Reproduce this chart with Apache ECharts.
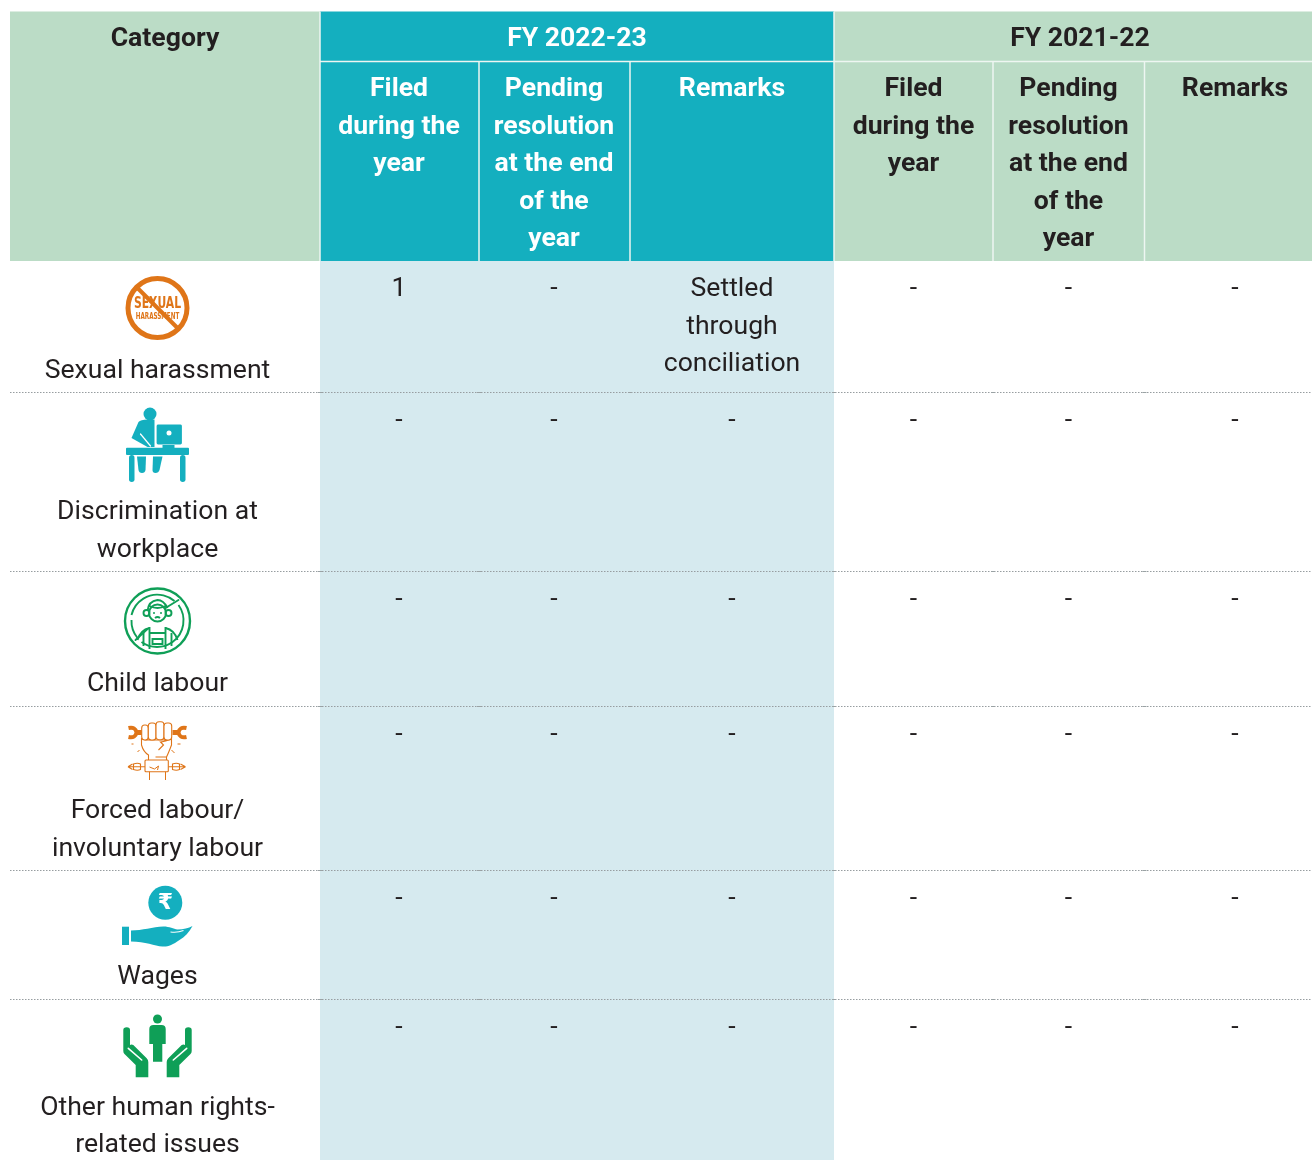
<!DOCTYPE html>
<html>
<head>
<meta charset="utf-8">
<title>Grievances on human rights</title>
<script src="https://cdn.jsdelivr.net/npm/echarts@6/dist/echarts.min.js"></script>
<style>
  html, body { margin: 0; padding: 0; background: #fff; }
  #chart { width: 1312px; height: 1160px; }
</style>
</head>
<body>
<div id="chart"></div>
<script>
// table content
const categoryHead = 'Category'
const yearHeads = ['FY 2022-23', 'FY 2021-22']
const subHeads = ['Filed\nduring the\nyear', 'Pending\nresolution\nat the end\nof the\nyear', 'Remarks']
const categories = [
  'Sexual harassment',
  'Discrimination at\nworkplace',
  'Child labour',
  'Forced labour/\ninvoluntary labour',
  'Wages',
  'Other human rights-\nrelated issues'
]
const filed2223 = ['1', '-', '-', '-', '-', '-']
const pending2223 = ['-', '-', '-', '-', '-', '-']
const remarks2223 = ['Settled\nthrough\nconciliation', '-', '-', '-', '-', '-']
const filed2122 = ['-', '-', '-', '-', '-', '-']
const pending2122 = ['-', '-', '-', '-', '-', '-']
const remarks2122 = ['-', '-', '-', '-', '-', '-']

// layout of the table, in picture units (the axes below run 0-1312 and 0-1160)
const COL_EDGES = [10, 320, 479, 630, 834, 993, 1144.5, 1312]
const ROW_EDGES = [261, 392.5, 571.5, 706.5, 870.5, 999.5, 1160]
const HEAD_TOP = 11.5
const HEAD_SPLIT = 61.5
const COL_CENTERS = [399, 554, 732, 913.5, 1068.5, 1235]
const CATEGORY_X = 157.5
const ICON_Y = [308, 445, 621, 750, 920, 1045]
const CATEGORY_TEXT_Y = [352.5, 494, 666, 793, 959, 1089.5]

const GREEN_HEAD = '#bbdcc6'
const TEAL = '#14afbf'
const PALE_BLUE = '#d6eaef'
const INK = '#231f20'
const ORANGE = '#df7518'
const GREEN = '#0f9f57'
const FONT = 'Roboto, sans-serif'
const LINE_H = 37.5
const NARROW = '"Liberation Sans Narrow", "DejaVu Sans Condensed", sans-serif'

const valueColumns = [filed2223, pending2223, remarks2223, filed2122, pending2122, remarks2122]

// background blocks
const cellData = [
  [COL_EDGES[0], HEAD_TOP, COL_EDGES[1], ROW_EDGES[0], GREEN_HEAD],
  [COL_EDGES[1], HEAD_TOP, COL_EDGES[4], ROW_EDGES[0], TEAL],
  [COL_EDGES[4], HEAD_TOP, COL_EDGES[7], ROW_EDGES[0], GREEN_HEAD],
  [COL_EDGES[1], ROW_EDGES[0], COL_EDGES[4], ROW_EDGES[6], PALE_BLUE]
]

// texts: x, y(top of first line), text, weight, colour
const textData = []
textData.push([165, 21, categoryHead, 700, INK])
textData.push([577, 21, yearHeads[0], 700, '#fff'])
textData.push([1080, 21, yearHeads[1], 700, INK])
COL_CENTERS.forEach((x, i) => {
  textData.push([x, 71, subHeads[i % 3], 700, i < 3 ? '#fff' : INK])
  valueColumns[i].forEach((v, r) => {
    textData.push([x, ROW_EDGES[r] + 10, v, 400, INK])
  })
})
categories.forEach((c, r) => {
  textData.push([CATEGORY_X, CATEGORY_TEXT_Y[r], c, 400, INK])
})

// white separators in the header: x0, y0, x1, y1
const headLines = [
  [COL_EDGES[1], HEAD_SPLIT, COL_EDGES[7], HEAD_SPLIT],
  [COL_EDGES[1], HEAD_TOP, COL_EDGES[1], ROW_EDGES[0]],
  [COL_EDGES[4], HEAD_TOP, COL_EDGES[4], ROW_EDGES[0]]
]
;[2, 3, 5, 6].forEach((i) => {
  headLines.push([COL_EDGES[i], HEAD_SPLIT, COL_EDGES[i], ROW_EDGES[0]])
})

function renderCell(params, api) {
  const p0 = api.coord([api.value(0), api.value(1)])
  const p1 = api.coord([api.value(2), api.value(3)])
  return {
    type: 'rect',
    shape: { x: p0[0], y: p0[1], width: p1[0] - p0[0], height: p1[1] - p0[1] },
    style: { fill: cellData[params.dataIndex][4] }
  }
}

function renderHeadLine(params, api) {
  const p0 = api.coord([api.value(0), api.value(1)])
  const p1 = api.coord([api.value(2), api.value(3)])
  return {
    type: 'line',
    shape: { x1: p0[0], y1: p0[1], x2: p1[0], y2: p1[1] },
    style: { stroke: '#eef6f2', lineWidth: 1.5 }
  }
}

function renderRowLine(params, api) {
  const y = api.value(0)
  const a = api.coord([COL_EDGES[0], y])
  const b = api.coord([COL_EDGES[7], y])
  const children = [{
    type: 'line',
    shape: { x1: a[0], y1: a[1], x2: b[0], y2: b[1] },
    style: { stroke: '#979da0', lineWidth: 1, lineDash: [1.5, 1.5] }
  }]
  // little darker joins where the column borders meet the rule
  COL_EDGES.slice(1, 7).forEach((x) => {
    const c = api.coord([x, y])
    children.push({
      type: 'line',
      shape: { x1: c[0] - 2, y1: c[1], x2: c[0] + 2, y2: c[1] },
      style: { stroke: '#9aa2a4', lineWidth: 1 }
    })
  })
  return { type: 'group', children }
}

function renderText(params, api) {
  const d = textData[params.dataIndex]
  const p = api.coord([d[0], d[1]])
  return {
    type: 'text',
    x: p[0],
    y: p[1],
    style: {
      text: d[2],
      align: 'center',
      verticalAlign: 'top',
      font: d[3] + ' 26.6px ' + FONT,
      lineHeight: LINE_H,
      fill: d[4]
    }
  }
}

// --- icons, drawn around an anchor point ---
function circle(cx, cy, r, style) {
  return { type: 'circle', shape: { cx, cy, r }, style }
}
function path(d, style) {
  return { type: 'path', shape: { pathData: d }, style, x: 0, y: 0 }
}
function rect(x, y, width, height, r, fill) {
  return { type: 'rect', shape: { x, y, width, height, r }, style: { fill } }
}
function seg(x1, y1, x2, y2, stroke, lineWidth) {
  return { type: 'line', shape: { x1, y1, x2, y2 }, style: { stroke, lineWidth, lineCap: 'round' } }
}
function label(text, x, y, font, fill, scaleX) {
  return { type: 'text', x, y, scaleX: scaleX || 1, style: { text, font, fill, align: 'center', verticalAlign: 'middle' } }
}

function iconSexual() {
  return [
    circle(0, 0, 29.5, { fill: '#fff', stroke: ORANGE, lineWidth: 5 }),
    label('SEXUAL', 0, -4, 'bold 15px ' + NARROW, ORANGE, 0.8),
    label('HARASSMENT', 0, 9, 'bold 8px ' + NARROW, ORANGE, 0.78),
    seg(-19, -19, 19, 19, ORANGE, 4)
  ]
}

function iconDesk() {
  return [
    circle(-7.5, -31, 6.5, { fill: TEAL }),
    path('M-19 -23 Q-17 -25.5 -10 -25.5 L-3 -25.5 L-3 2 L-10 2 L-26 -7 Z', { fill: TEAL }),
    seg(-17, -11, -7, 1, '#fff', 1.2),
    { type: 'rect', shape: { x: -1.5, y: -21, width: 26.5, height: 21, r: 2 }, style: { fill: TEAL, stroke: '#fff', lineWidth: 1.2 } },
    circle(11.5, -12, 2.5, { fill: '#fff' }),
    rect(5, 0, 12, 3, 0, TEAL),
    rect(-31.5, 2.7, 63, 7.3, 1, TEAL),
    rect(-28.5, 10, 5.5, 27, 2.7, TEAL),
    rect(22.5, 10, 5.5, 27, 2.7, TEAL),
    path('M-20.5 11.5 L-11.5 11.5 L-12 25 Q-12.5 28 -15.5 28 Q-18.5 28 -19 25 Z', { fill: TEAL }),
    path('M-4.5 11.5 L5 11.5 L2 25 Q1 28 -2 28 Q-5 28 -5 25 Z', { fill: TEAL })
  ]
}

function iconChild() {
  const s = { fill: 'none', stroke: GREEN, lineWidth: 1.9 }
  return [
    circle(0, 0, 32.5, { fill: 'none', stroke: GREEN, lineWidth: 2.4 }),
    path('M-26 -6 A26.5 26.5 0 0 1 17 -20 M21 -16 A26.5 26.5 0 0 1 -16 21 M-20 17 A26.5 26.5 0 0 1 -26 -1', s),
    circle(0, -8, 8.5, s),
    path('M-10 -10 Q-9 -20 0 -21 Q6 -21 10 -13 M-8 -15 Q0 -11 8 -15', s),
    circle(-11, -8, 3, s),
    circle(11, -8, 3, s),
    circle(-3.5, -8, 1, { fill: GREEN }),
    circle(3.5, -8, 1, { fill: GREEN }),
    path('M-2.5 -3 Q0 -5 2.5 -3', s),
    path('M-8 6 L-8 28 M8 6 L8 28 M-8 12 L8 12 M-5 18 L5 18 L5 23 L-5 23 Z', s),
    path('M-8 7 Q-17 9 -20 19 M8 7 Q17 9 20 19 M-14 12 L-14 25 M14 12 L14 25', s),
    seg(8, -13, 21, -21, GREEN, 1.9),
    seg(-22, 19, -10, 8, GREEN, 1.9)
  ]
}

function iconFist() {
  const s = { fill: '#fff', stroke: ORANGE, lineWidth: 1.1 }
  const wrench = () => [
    path('M-29 -22 Q-22 -23.5 -21 -17.5 Q-22 -11.5 -29 -13', { fill: 'none', stroke: ORANGE, lineWidth: 4 }),
    rect(-21, -20, 6, 5, 0, ORANGE)
  ]
  return [
    { type: 'group', children: wrench() },
    { type: 'group', scaleX: -1, children: wrench() },
    path('M-16 -12 L-16 -5 Q-14 2 -9 5 L-9 10 M14 -12 L14 -5 Q11 3 9 7 L9 10 M-13 -10 L11 -10 Q5 -8 3 -8 L6 -5 L1 0 M-2 7 L9 7', { fill: 'none', stroke: ORANGE, lineWidth: 1.1 }),
    { type: 'rect', shape: { x: -15.8, y: -25, width: 6.6, height: 15, r: 3 }, style: s },
    { type: 'rect', shape: { x: -9.2, y: -27, width: 7.7, height: 17, r: 3 }, style: s },
    { type: 'rect', shape: { x: -1.5, y: -28.3, width: 8, height: 18, r: 3 }, style: s },
    { type: 'rect', shape: { x: 6.5, y: -27, width: 7.7, height: 17, r: 3 }, style: s },
    { type: 'rect', shape: { x: -12.5, y: 10, width: 23.3, height: 11.7, r: 1 }, style: s },
    path('M-8 21.7 L-8 30 M8 21.7 L8 30 M-8 17 L-3 19 L1 16 L0 20 M-26 -6 L-24 -6 M20 -6 L23 -6 M-20 2 L-18 0 M14 0 L17 3', { fill: 'none', stroke: ORANGE, lineWidth: 1 }),
    path('M-29.5 16.7 L-12.5 16.7 M-24 14 Q-20 12.5 -17 14 L-17 19.5 Q-20 21 -24 19.5 Z M-29.5 16.7 L-25 14 M-29.5 16.7 L-25 19.5', { fill: 'none', stroke: ORANGE, lineWidth: 1.1 }),
    path('M10.8 16.7 L28 16.7 M15 14 Q19 12.5 22 14 L22 19.5 Q19 21 15 19.5 Z M28 16.7 L23 14 M28 16.7 L23 19.5', { fill: 'none', stroke: ORANGE, lineWidth: 1.1 })
  ]
}

function iconWages() {
  return [
    circle(7.8, -17.3, 17, { fill: TEAL }),
    label('\u20b9', 7.8, -17, 'bold 22px "DejaVu Sans", sans-serif', '#fff'),
    rect(-35.5, 6.7, 7, 18.3, 0, TEAL),
    path('M-26.5 10.5 C-15 10.5 -5 7 6 6.5 C12 6.5 16 9 20 9.5 C26 9.5 31 8 35 6 C32 12 27 17 22 20 C15 25 10 27 5 26.5 C-3 26 -12 21.5 -26.5 21.5 Z', { fill: TEAL }),
    path('M13 12 Q20 13 26 10.5', { fill: 'none', stroke: '#fff', lineWidth: 1.1 })
  ]
}

function iconRights() {
  const hand = () => [
    path('M-34.2 -15 Q-34.2 -17.7 -30.8 -17.7 Q-27.5 -17.7 -27.5 -15 L-27.5 0 Q-26 -1 -24.2 0 L-10.8 13.3 Q-9.2 15 -9.2 17 L-9.2 32.3 L-21.8 32.3 L-21.8 20 L-33 9 Q-34.2 8 -34.2 6 Z', { fill: GREEN }),
    seg(-29.2, 3.3, -15.8, 15, '#fff', 1.6)
  ]
  return [
    circle(0, -26, 4.5, { fill: GREEN }),
    path('M-8.2 -16 Q-8.2 -20 -4 -20 L4 -20 Q8.2 -20 8.2 -16 L8.2 -1 L4.8 -1 L4.8 16.7 L-4.5 16.7 L-4.5 -1 L-8.2 -1 Z', { fill: GREEN }),
    { type: 'group', children: hand() },
    { type: 'group', scaleX: -1, children: hand() }
  ]
}

const iconMakers = [iconSexual, iconDesk, iconChild, iconFist, iconWages, iconRights]

function renderIcon(params, api) {
  const p = api.coord([api.value(0), api.value(1)])
  return { type: 'group', x: p[0], y: p[1], children: iconMakers[params.dataIndex]() }
}

function customSeries(data, renderItem, encodeDims) {
  return {
    type: 'custom',
    coordinateSystem: 'cartesian2d',
    silent: true,
    clip: false,
    animation: false,
    data,
    encode: encodeDims,
    renderItem
  }
}

const chart = echarts.init(document.getElementById('chart'), null, { renderer: 'canvas' })
chart.setOption({
  animation: false,
  backgroundColor: '#fff',
  grid: { left: 0, right: 0, top: 0, bottom: 0, containLabel: false },
  xAxis: { type: 'value', min: 0, max: 1312, show: false },
  yAxis: { type: 'value', min: 0, max: 1160, inverse: true, show: false },
  series: [
    customSeries(cellData.map((c) => c.slice(0, 4)), renderCell, { x: [0, 2], y: [1, 3] }),
    customSeries(headLines, renderHeadLine, { x: [0, 2], y: [1, 3] }),
    customSeries(ROW_EDGES.slice(1, 6).map((y) => [y]), renderRowLine, { y: 0 }),
    customSeries(ICON_Y.map((y) => [CATEGORY_X, y]), renderIcon, { x: 0, y: 1 }),
    customSeries(textData.map((t) => [t[0], t[1]]), renderText, { x: 0, y: 1 })
  ]
})
</script>
</body>
</html>
